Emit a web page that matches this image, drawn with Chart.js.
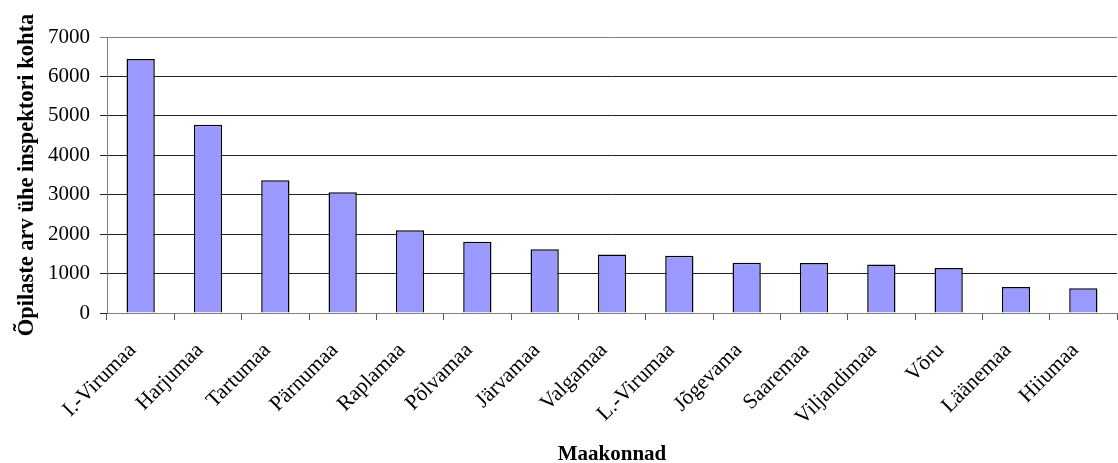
<!DOCTYPE html>
<html>
<head>
<meta charset="utf-8">
<script src="https://cdn.jsdelivr.net/npm/chart.js@4/dist/chart.umd.min.js"></script>
<style>
html,body{margin:0;padding:0;background:#fff;}
#wrap{width:1118px;height:463px;position:relative;}
</style>
</head>
<body>
<div id="wrap"><canvas id="c" width="1118" height="463"></canvas></div>
<script>
const categories = ["I.-Virumaa","Harjumaa","Tartumaa","Pärnumaa","Raplamaa","Põlvamaa","Järvamaa","Valgamaa","L.-Virumaa","Jõgevama","Saaremaa","Viljandimaa","Võru","Läänemaa","Hiiumaa"];
const values = [6440, 4775, 3365, 3065, 2100, 1805, 1620, 1485, 1450, 1275, 1265, 1230, 1140, 660, 625];
const yTicks = [0, 1000, 2000, 3000, 4000, 5000, 6000, 7000];
const yTitle = "Õpilaste arv ühe inspektori kohta";
const xTitle = "Maakonnad";

const FONT = "'Liberation Serif', 'Times New Roman', serif";
Chart.defaults.font.family = FONT;
Chart.defaults.color = '#000';

new Chart(document.getElementById('c'), {
  type: 'bar',
  data: {
    labels: categories,
    datasets: [{
      data: values,
      backgroundColor: '#9999FF',
      borderColor: '#000',
      borderWidth: 1.5,
      categoryPercentage: 1.0,
      barPercentage: 0.42
    }]
  },
  options: {
    responsive: false,
    animation: false,
    layout: { padding: { top: 37, right: 1, left: 0, bottom: 0 } },
    plugins: { legend: { display: false }, tooltip: { enabled: false } },
    scales: {
      x: {
        grid: { display: true, drawOnChartArea: false, drawTicks: true, tickLength: 7, color: '#555', offset: true },
        border: { display: true, color: '#808080', width: 1 },
        ticks: { maxRotation: 45, minRotation: 45, autoSkip: false, padding: 18, labelOffset: -8, font: { size: 21.5 }, color: '#000' },
        title: { display: true, text: xTitle, font: { size: 21, weight: 'bold', lineHeight: 0.8 }, color: '#000', padding: { top: 0, bottom: 0 } },
        afterFit: (s) => { s.height = 150; s.paddingRight = 0; s.paddingLeft = 0; }
      },
      y: {
        min: 0, max: 7000,
        afterBuildTicks: (s) => { s.ticks = yTicks.map(v => ({ value: v })); },
        grid: { color: (ctx) => ctx.tick && ctx.tick.value === 7000 ? '#808080' : '#222', lineWidth: 1, tickLength: 7 },
        border: { display: true, color: '#808080', width: 1 },
        ticks: { padding: 10, font: { size: 21 }, color: '#000', callback: (v) => String(v) },
        title: { display: true, text: yTitle, font: { size: 22.5, weight: 'bold' }, color: '#000', padding: { top: 14, bottom: 0 } },
        afterFit: (s) => { s.width = 107; s.paddingTop = 0; s.paddingBottom = 0; }
      }
    }
  }
});
</script>
</body>
</html>
